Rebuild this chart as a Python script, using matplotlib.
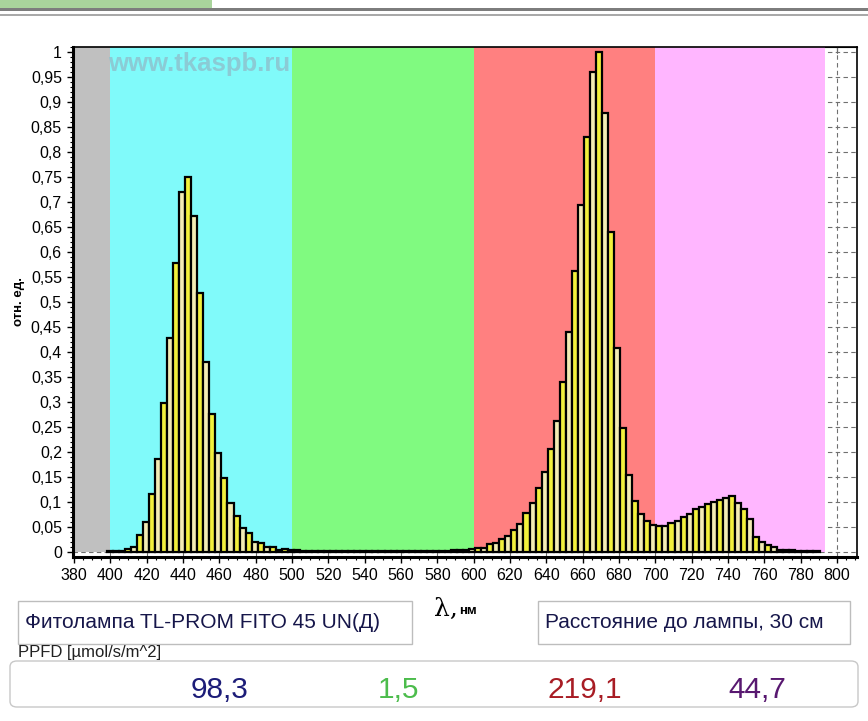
import numpy as np
import matplotlib
matplotlib.use('Agg')
import matplotlib.pyplot as plt
from matplotlib.patches import Rectangle, FancyBboxPatch
from matplotlib.ticker import MultipleLocator, FuncFormatter

plt.rcParams['font.family'] = ['Liberation Sans', 'DejaVu Sans']

# spectrometer grid, nm
WL_START = 399.675
WL_STEP = 3.325

# relative intensity per band
rel_blue = [0.002, 0.002, 0.003, 0.006, 0.010, 0.035, 0.061, 0.116, 0.186, 0.299,
            0.428, 0.579, 0.721, 0.750, 0.673, 0.518, 0.380, 0.277, 0.199, 0.148,
            0.099, 0.073, 0.048, 0.038, 0.021, 0.018, 0.010, 0.010, 0.005, 0.006, 0.004]
rel_green = [0.005, 0.003, 0.003, 0.002, 0.002, 0.002, 0.002, 0.002, 0.002, 0.002,
             0.002, 0.002, 0.002, 0.002, 0.002, 0.002, 0.002, 0.002, 0.002, 0.002,
             0.002, 0.002, 0.003, 0.003, 0.003, 0.003, 0.004, 0.004, 0.005, 0.006]
rel_red = [0.008, 0.008, 0.016, 0.018, 0.026, 0.033, 0.045, 0.057, 0.079, 0.099,
           0.128, 0.160, 0.206, 0.263, 0.341, 0.441, 0.563, 0.695, 0.830, 0.961,
           1.000, 0.878, 0.640, 0.408, 0.248, 0.155, 0.103, 0.077, 0.062, 0.054]
rel_farred = [0.053, 0.053, 0.058, 0.063, 0.070, 0.077, 0.086, 0.091, 0.097, 0.100,
              0.105, 0.109, 0.113, 0.099, 0.086, 0.067, 0.031, 0.021, 0.015, 0.010,
              0.005, 0.004, 0.004, 0.003, 0.003, 0.003, 0.003]

band_edges = [380, 400, 500, 600, 700, 793.4]
band_colors = ['#c0c0c0', '#80fafa', '#80fa80', '#ff8080', '#ffb6ff']

ppfd_values = [98.3, 1.5, 219.1, 44.7]
ppfd_colors = ['#1c1c78', '#4cbc4c', '#a81c24', '#581870']

lamp_name = u'Фитолампа TL-PROM FITO 45 UN(Д)'
distance = u'Расстояние до лампы, 30 см'

W, H = 868, 721

def px(x, y):
    return x / W, 1 - y / H

def comma(v, pos=None):
    s = ('%.2f' % v).rstrip('0').rstrip('.')
    return s.replace('.', ',')

rel = np.array(rel_blue + rel_green + rel_red + rel_farred)
wl = WL_START + WL_STEP * np.arange(len(rel))

fig = plt.figure(figsize=(W / 100, H / 100), dpi=100)
fig.patch.set_facecolor('white')

# window header strip
fig.patches.append(Rectangle(px(0, 7.5), 212 / W, 7.5 / H, transform=fig.transFigure,
                             facecolor='#a9d49c', edgecolor='none'))
fig.patches.append(Rectangle(px(0, 10.5), 1, 2.5 / H, transform=fig.transFigure,
                             facecolor='#7d7d7d', edgecolor='none'))
fig.patches.append(Rectangle(px(0, 16), 1, 2.5 / H, transform=fig.transFigure,
                             facecolor='#a9a9a9', edgecolor='none'))

x0, y0 = px(73, 557)
x1, y1 = px(857, 47)
ax = fig.add_axes([x0, y0, x1 - x0, y1 - y0])
ax.set_xlim(379.5, 811)
ax.set_ylim(-0.009, 1.01)

for lo, hi, c in zip(band_edges[:-1], band_edges[1:], band_colors):
    ax.fill_between([lo, hi], 0, 1.01, color=c, lw=0, zorder=1)

ax.text(0.045, 0.99, 'www.tkaspb.ru', transform=ax.transAxes,
        fontsize=18.5, fontweight='bold', color='#8ec0cc', alpha=0.8,
        va='top', ha='left', zorder=2)

fills = ['#f3ecb4' if i % 2 == 0 else '#f2f03c' for i in range(len(rel))]
ax.bar(wl, rel, width=WL_STEP, color=fills, edgecolor='black', linewidth=1.6,
       zorder=3)

ax.grid(True, which='major', linestyle=(0, (4, 3)), color='#707070', lw=0.8, zorder=0)
ax.set_axisbelow(True)

ax.xaxis.set_major_locator(MultipleLocator(20))
ax.xaxis.set_minor_locator(MultipleLocator(5))
ax.yaxis.set_major_locator(MultipleLocator(0.05))
ax.yaxis.set_minor_locator(MultipleLocator(0.01))
ax.yaxis.set_major_formatter(FuncFormatter(comma))
ax.set_xticks(np.arange(380, 801, 20))
ax.tick_params(axis='both', which='major', labelsize=11.5, length=4, width=1,
               direction='out', pad=4)
ax.tick_params(axis='both', which='minor', length=2.5, width=0.8, direction='out')
for s in ['left', 'bottom']:
    ax.spines[s].set_linewidth(2.2)
for s in ['top', 'right']:
    ax.spines[s].set_linewidth(1.2)

top = ax.secondary_xaxis('top')
top.set_xticks(np.arange(380, 801, 20))
top.tick_params(direction='in', length=4, labeltop=False)

ax.set_ylabel(u'отн. ед.', fontsize=9.5, fontweight='bold', labelpad=4)

# x axis caption
fig.text(*px(434, 616), u'λ,', fontsize=18, family='DejaVu Serif', ha='left', va='baseline')
fig.text(*px(459, 614), u'нм', fontsize=9.5, fontweight='bold', ha='left', va='baseline')

# info boxes
for (bx0, bx1), txt in [((18, 412), lamp_name), ((538, 850), distance)]:
    fx, fy = px(bx0, 644)
    fig.patches.append(Rectangle((fx, fy), (bx1 - bx0) / W, 43 / H,
                                 transform=fig.transFigure, facecolor='white',
                                 edgecolor='#bdbdbd', lw=1))
    fig.text(*px(bx0 + 7, 623), txt, fontsize=15, color='#16164a',
             ha='left', va='center')

fig.text(*px(18, 657), 'PPFD [µmol/s/m^2]', fontsize=12, color='#202020',
         ha='left', va='baseline')
fx, fy = px(10, 707)
fig.patches.append(FancyBboxPatch((fx, fy), 848 / W, 46 / H,
                                  boxstyle='round,pad=0,rounding_size=0.008',
                                  transform=fig.transFigure, facecolor='white',
                                  edgecolor='#c8c8c8', lw=1))
for xc, v, c in zip([220, 398, 585, 757], ppfd_values, ppfd_colors):
    fig.text(*px(xc, 690), ('%.1f' % v).replace('.', ','), fontsize=21.5, color=c,
             ha='center', va='center')

fig.savefig('out.png', dpi=100)
